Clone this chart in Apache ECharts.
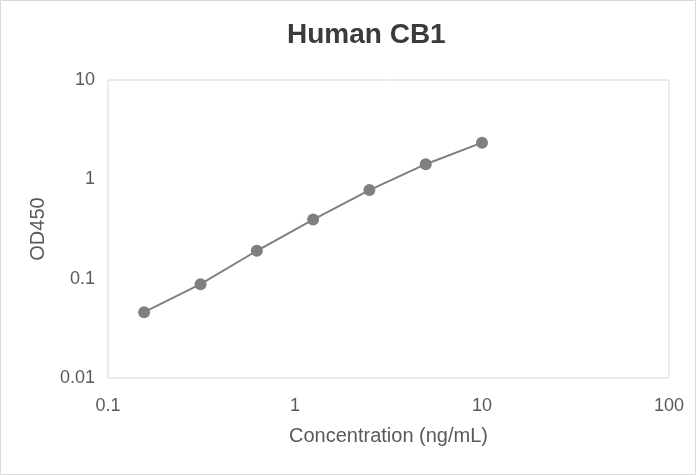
<!DOCTYPE html>
<html>
<head>
<meta charset="utf-8">
<script src="https://cdn.jsdelivr.net/npm/echarts@6/dist/echarts.min.js"></script>
<style>
  html, body { margin: 0; padding: 0; background: #ffffff; }
  #main { width: 696px; height: 475px; }
</style>
</head>
<body>
<div id="main"></div>
<script>
// standard curve values
var concentration = [0.156, 0.3125, 0.625, 1.25, 2.5, 5, 10];
var od450 = [0.046, 0.088, 0.191, 0.394, 0.78, 1.42, 2.34];

var xTicks = [0.1, 1, 10, 100];
var yTicks = [0.01, 0.1, 1, 10];

var points = concentration.map(function (c, i) { return [c, od450[i]]; });

var myChart = echarts.init(document.getElementById('main'));

var option = {
    backgroundColor: '#ffffff',
    animation: false,
    textStyle: { fontFamily: 'Liberation Sans, Arial, sans-serif' },
    title: {
        text: 'Human CB1',
        left: 282,
        top: 16,
        textStyle: {
            fontSize: 28,
            fontWeight: 'bold',
            color: '#3b3b3b',
            fontFamily: 'Liberation Sans, Arial, sans-serif'
        }
    },
    graphic: [{
        type: 'rect',
        shape: { x: 0.5, y: 0.5, width: 695, height: 474 },
        style: { fill: 'none', stroke: '#d9d9d9', lineWidth: 1 },
        silent: true
    }],
    grid: {
        left: 108,
        right: 27,
        top: 80,
        bottom: 97,
        show: true,
        borderColor: '#d9d9d9',
        borderWidth: 1
    },
    xAxis: {
        type: 'log',
        logBase: 10,
        min: xTicks[0],
        max: xTicks[xTicks.length - 1],
        name: 'Concentration (ng/mL)',
        nameLocation: 'middle',
        nameGap: 48,
        nameTextStyle: { fontSize: 20, color: '#595959' },
        axisLine: { show: false },
        axisTick: { show: false },
        splitLine: { show: false },
        axisLabel: {
            fontSize: 18,
            color: '#595959',
            margin: 19,
            formatter: function (v) { return String(+v.toPrecision(3)); }
        }
    },
    yAxis: {
        type: 'log',
        logBase: 10,
        min: yTicks[0],
        max: yTicks[yTicks.length - 1],
        name: 'OD450',
        nameLocation: 'middle',
        nameGap: 60,
        nameTextStyle: { fontSize: 20, color: '#595959' },
        axisLine: { show: false },
        axisTick: { show: false },
        splitLine: { show: false },
        axisLabel: {
            fontSize: 18,
            color: '#595959',
            margin: 13,
            formatter: function (v) { return String(+v.toPrecision(3)); }
        }
    },
    series: [{
        type: 'line',
        data: points,
        symbol: 'circle',
        symbolSize: 12,
        lineStyle: { color: '#7f7f7f', width: 2 },
        itemStyle: { color: '#7f7f7f' }
    }]
};
myChart.setOption(option);
</script>
</body>
</html>
